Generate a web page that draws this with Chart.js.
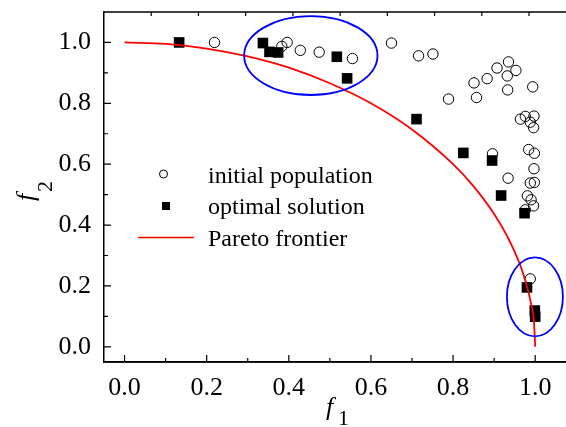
<!DOCTYPE html>
<html>
<head>
<meta charset="utf-8">
<script src="https://cdn.jsdelivr.net/npm/chart.js@4/dist/chart.umd.min.js"></script>
<style>
html,body{margin:0;padding:0;background:#fff;overflow:hidden;}
#wrap{width:566px;height:427px;}
</style>
</head>
<body>
<div id="wrap"><canvas id="c" width="566" height="427"></canvas></div>
<script>
// ---- data ----
const initialF1 = [0.219,0.383,0.396,0.428,0.474,0.555,0.650,0.716,0.751,0.789,0.851,0.857,0.883,0.907,0.935,0.953,0.932,0.933,0.994,0.964,0.976,0.997,0.988,0.996,0.984,0.998,0.896,0.997,0.934,0.988,0.998,0.981,0.990,0.996,0.976,0.988];
const initialF2 = [1.000,0.987,1.000,0.974,0.968,0.947,0.998,0.956,0.962,0.814,0.867,0.819,0.881,0.916,0.936,0.908,0.890,0.844,0.854,0.748,0.757,0.758,0.738,0.720,0.648,0.636,0.634,0.585,0.554,0.538,0.540,0.496,0.483,0.463,0.450,0.223];
const optimalF1 = [0.133,0.337,0.353,0.374,0.517,0.542,0.711,0.825,0.895,0.917,0.974,0.980,0.999,1.000];
const optimalF2 = [1.000,0.998,0.969,0.967,0.953,0.882,0.748,0.637,0.612,0.497,0.439,0.195,0.119,0.099];
const paretoF1 = [0.000,0.100,0.200,0.300,0.400,0.500,0.600,0.700,0.800,0.850,0.900,0.940,0.970,0.990,0.997,1.000];
const paretoF2 = [1.000,0.995,0.980,0.954,0.917,0.866,0.800,0.714,0.600,0.527,0.436,0.341,0.243,0.141,0.080,0.000];
const seriesNames = ['initial population','optimal solution','Pareto frontier'];
const xTickValues = [0.0,0.2,0.4,0.6,0.8,1.0];
const yTickValues = [0.0,0.2,0.4,0.6,0.8,1.0];
const xMinorValues = [0.1,0.3,0.5,0.7,0.9];
const yMinorValues = [0.1,0.3,0.5,0.7,0.9];
const topTickValues = [0.065,0.180,0.295,0.410,0.525,0.640,0.755,0.870,0.985];
// highlighted regions: [centre f1, centre f2, radius f1, radius f2]
const highlightEllipses = [[0.4536,0.957,0.1624,0.1297],[0.9993,0.164,0.0682,0.1297]];

const toXY = (xs, ys) => xs.map((x,i)=>({x:x,y:ys[i]}));
const FONT = '"Liberation Serif","Times New Roman",serif';

// the plot frame runs off the right edge of the picture
const stretchRight = {
  id:'stretchRight',
  afterLayout(chart){
    const xs = chart.scales.x, a = chart.chartArea;
    a.right = chart.width; a.width = a.right - a.left;
    xs.right = chart.width; xs.width = xs.right - xs.left;
    xs.configure();
  }
};

const decor = {
  id:'decor',
  afterDatasetsDraw(chart){
    const ctx = chart.ctx, xs = chart.scales.x, ys = chart.scales.y, a = chart.chartArea;
    ctx.save();
    // ellipses
    ctx.strokeStyle = '#0000ff'; ctx.lineWidth = 1.8;
    highlightEllipses.forEach(e=>{
      const cx = xs.getPixelForValue(e[0]), cy = ys.getPixelForValue(e[1]);
      const rx = Math.abs(xs.getPixelForValue(e[0]+e[2]) - cx);
      const ry = Math.abs(ys.getPixelForValue(e[1]+e[3]) - cy);
      ctx.beginPath(); ctx.ellipse(cx,cy,rx,ry,0,0,Math.PI*2); ctx.stroke();
    });
    // frame & ticks
    ctx.strokeStyle = '#000'; ctx.lineWidth = 1.5;
    ctx.beginPath(); ctx.moveTo(a.left, a.top); ctx.lineTo(chart.width, a.top); ctx.stroke();
    ctx.beginPath(); ctx.moveTo(a.left, a.bottom); ctx.lineTo(chart.width, a.bottom); ctx.stroke();
    ctx.lineWidth = 1.2;
    ctx.beginPath();
    xTickValues.forEach(v=>{const p=xs.getPixelForValue(v); ctx.moveTo(p,a.bottom); ctx.lineTo(p,a.bottom-7);});
    xMinorValues.forEach(v=>{const p=xs.getPixelForValue(v); ctx.moveTo(p,a.bottom); ctx.lineTo(p,a.bottom-4);});
    yTickValues.forEach(v=>{const p=ys.getPixelForValue(v); ctx.moveTo(a.left,p); ctx.lineTo(a.left+7,p);});
    yMinorValues.forEach(v=>{const p=ys.getPixelForValue(v); ctx.moveTo(a.left,p); ctx.lineTo(a.left+4,p);});
    topTickValues.forEach(v=>{const p=xs.getPixelForValue(v); ctx.moveTo(p,a.top); ctx.lineTo(p,a.top+4);});
    ctx.stroke();
    // legend
    const lx = 208, rows = [174, 206, 237.5];
    ctx.lineWidth = 1;
    ctx.beginPath(); ctx.arc(163.5, rows[0], 4, 0, Math.PI*2); ctx.stroke();
    ctx.fillStyle = '#000'; ctx.fillRect(162, rows[1]-4, 8, 8);
    ctx.strokeStyle = '#ff0000'; ctx.lineWidth = 1.5;
    ctx.beginPath(); ctx.moveTo(138, rows[2]); ctx.lineTo(194, rows[2]); ctx.stroke();
    ctx.fillStyle = '#000'; ctx.font = '24px ' + FONT; ctx.textBaseline = 'alphabetic'; ctx.textAlign = 'left';
    ctx.fillText(seriesNames[0], lx, 182.5);
    ctx.fillText(seriesNames[1], lx, 214);
    ctx.fillText(seriesNames[2], lx, 245.5);
    // axis titles
    ctx.font = 'italic 26px ' + FONT;
    ctx.fillText('f', 326, 415);
    ctx.font = '22px ' + FONT;
    ctx.fillText('1', 338, 425);
    ctx.translate(34, 201); ctx.rotate(-Math.PI/2);
    ctx.font = 'italic 26px ' + FONT;
    ctx.fillText('f', 0, 0);
    ctx.font = '22px ' + FONT;
    ctx.fillText('2', 9, 18);
    ctx.restore();
  }
};

new Chart(document.getElementById('c'), {
  type:'scatter',
  data:{
    datasets:[
      {label:seriesNames[2], data:toXY(paretoF1,paretoF2), showLine:true, borderColor:'#ff0000', borderWidth:1.8, pointRadius:0, cubicInterpolationMode:'monotone', fill:false},
      {label:seriesNames[1], data:toXY(optimalF1,optimalF2), pointStyle:'rect', pointRadius:7.5, backgroundColor:'#000', borderColor:'#000', borderWidth:0},
      {label:seriesNames[0], data:toXY(initialF1,initialF2), pointStyle:'circle', pointRadius:5.2, backgroundColor:'rgba(0,0,0,0)', borderColor:'#000', borderWidth:1}
    ]
  },
  options:{
    responsive:false, animation:false, devicePixelRatio:1,
    layout:{padding:{top:12,left:0,right:0,bottom:0}},
    plugins:{legend:{display:false}, tooltip:{enabled:false}},
    scales:{
      x:{type:'linear', min:-0.05, max:1.075,
        afterBuildTicks:s=>{s.ticks = xTickValues.map(v=>({value:v}));},
        afterFit:s=>{s.height = 65; s.paddingLeft = 0; s.paddingRight = 0;},
        grid:{display:false}, border:{display:true,color:'#000',width:1.5},
        ticks:{color:'#000', font:{family:FONT,size:26}, padding:3, maxRotation:0, callback:v=>Number(v).toFixed(1)}},
      y:{type:'linear', min:-0.05, max:1.1,
        afterBuildTicks:s=>{s.ticks = yTickValues.map(v=>({value:v}));},
        afterFit:s=>{s.width = 104; s.paddingTop = 0; s.paddingBottom = 0;},
        grid:{display:false}, border:{display:true,color:'#000',width:1.5},
        ticks:{color:'#000', font:{family:FONT,size:26}, padding:5, callback:v=>Number(v).toFixed(1)}}
    }
  },
  plugins:[stretchRight, decor]
});
</script>
</body>
</html>
